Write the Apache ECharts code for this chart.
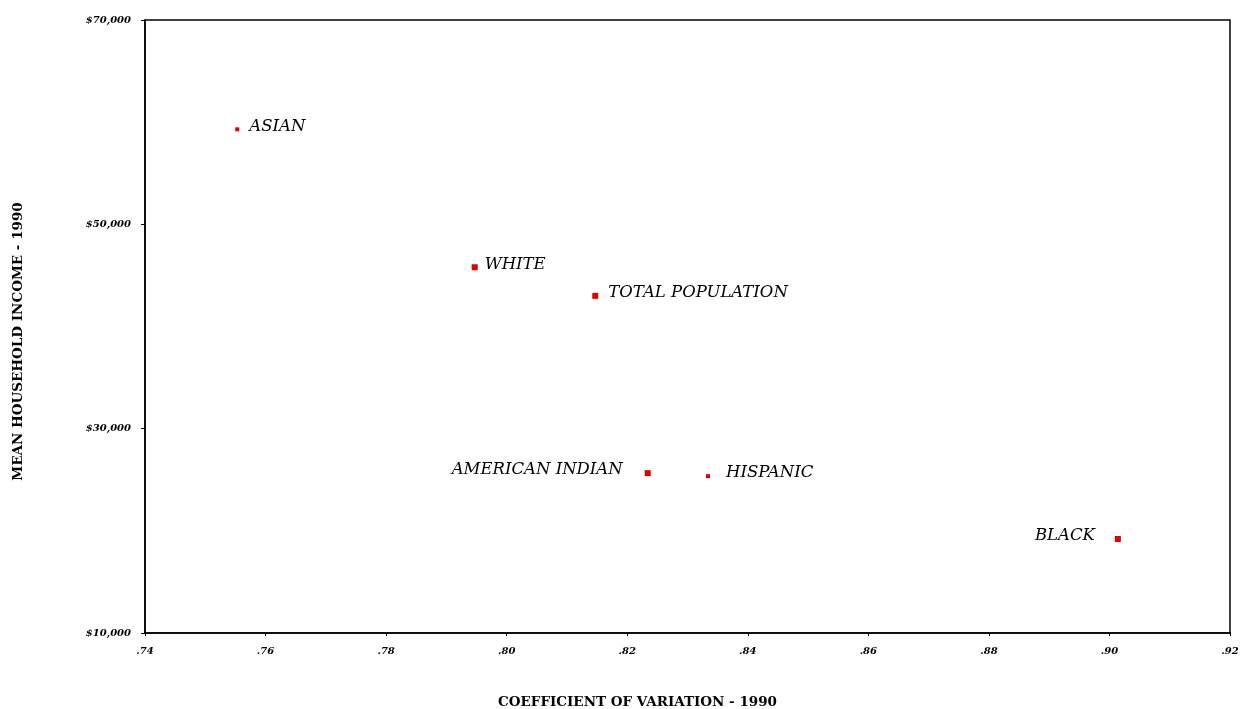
<!DOCTYPE html>
<html>
<head>
<meta charset="utf-8">
<script src="https://cdn.jsdelivr.net/npm/echarts@6/dist/echarts.min.js"></script>
<style>
  html, body { margin: 0; padding: 0; background: #ffffff; }
  #chart { width: 1243px; height: 709px; }
</style>
</head>
<body>
<div id="chart"></div>
<script>
// Population groups with coefficient of variation vs. mean household income, 1990
const groups = ['ASIAN', 'WHITE', 'TOTAL POPULATION', 'AMERICAN INDIAN', 'HISPANIC', 'BLACK'];
const coefVariation = [0.7553, 0.7947, 0.8147, 0.8234, 0.8334, 0.9014];
const meanIncome = [59300, 45800, 43000, 25650, 25350, 19200];
const markerSizes = [4, 6, 6, 6, 4, 6];
const labelSides = ['right', 'right', 'right', 'left', 'right', 'left'];
const labelGaps = [10, 7, 10, 22, 16, 20];

const xTicks = { min: 0.74, max: 0.92, step: 0.02 };
const yTicks = { min: 10000, max: 70000, step: 20000 };

const serif = '"DejaVu Serif", "Liberation Serif", serif';

const points = groups.map((g, i) => ({
  name: g,
  value: [coefVariation[i], meanIncome[i]],
  symbolSize: markerSizes[i],
  label: { position: labelSides[i], distance: labelGaps[i], offset: [0, -3] }
}));

const chart = echarts.init(document.getElementById('chart'), null, { renderer: 'canvas' });
chart.setOption({
  animation: false,
  backgroundColor: '#ffffff',
  grid: {
    left: 145, right: 13, top: 20, bottom: 76,
    outerBoundsMode: 'none', containLabel: false,
    show: true, borderColor: '#000', borderWidth: 1.5
  },
  xAxis: {
    type: 'value',
    min: xTicks.min, max: xTicks.max, interval: xTicks.step,
    name: 'COEFFICIENT OF VARIATION - 1990',
    nameLocation: 'middle', nameGap: 62,
    nameTextStyle: { color: '#000', fontFamily: serif, fontWeight: 'bold', fontSize: 13.5, padding: [0, 100, 0, 0] },
    axisLine: { show: true, lineStyle: { color: '#000', width: 1.5 } },
    axisTick: { show: true, length: 3, lineStyle: { color: '#000' } },
    splitLine: { show: false },
    axisLabel: {
      color: '#000', fontFamily: serif, fontWeight: 'bold', fontStyle: 'italic', fontSize: 10, margin: 13,
      formatter: v => '.' + Math.round(v * 100)
    }
  },
  yAxis: {
    type: 'value',
    min: yTicks.min, max: yTicks.max, interval: yTicks.step,
    name: 'MEAN HOUSEHOLD INCOME - 1990',
    nameLocation: 'middle', nameGap: 120, nameRotate: 90,
    nameTextStyle: { color: '#000', fontFamily: serif, fontWeight: 'bold', fontSize: 13.5, padding: [0, 30, 0, 0] },
    axisLine: { show: true, lineStyle: { color: '#000', width: 1.5 } },
    axisTick: { show: true, length: 4, lineStyle: { color: '#000' } },
    splitLine: { show: false },
    axisLabel: {
      color: '#000', fontFamily: serif, fontWeight: 'bold', fontStyle: 'italic', fontSize: 10, margin: 14,
      formatter: v => '$' + v.toLocaleString('en-US')
    }
  },
  series: [{
    type: 'scatter',
    symbol: 'rect',
    itemStyle: { color: '#e00000', opacity: 1 },
    data: points,
    label: {
      show: true,
      formatter: p => p.name,
      color: '#000', fontFamily: serif, fontStyle: 'italic', fontSize: 16.5
    }
  }]
});
</script>
</body>
</html>
